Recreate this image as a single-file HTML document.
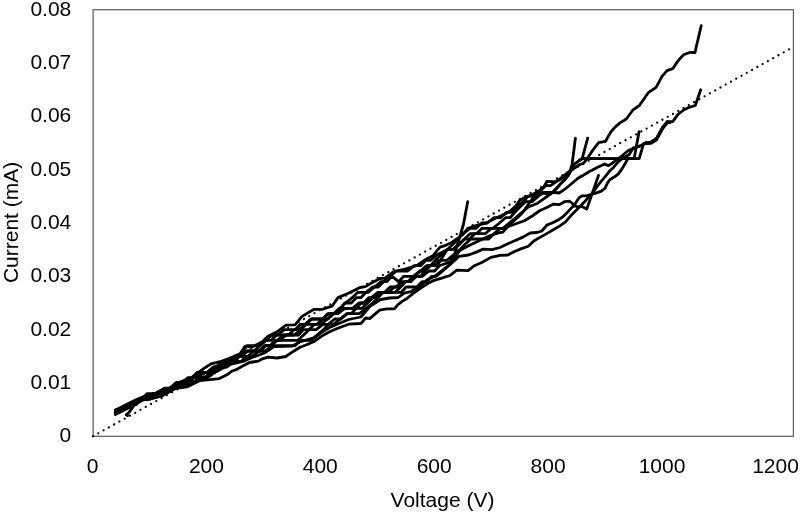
<!DOCTYPE html>
<html><head><meta charset="utf-8"><style>
html,body{margin:0;padding:0;background:#fff;width:800px;height:513px;overflow:hidden}
svg{display:block;will-change:transform}
text{font-family:"Liberation Sans",sans-serif;font-size:21px;fill:#000}
</style></head><body>
<svg width="800" height="513" viewBox="0 0 800 513">
<rect x="93.1" y="9.75" width="700.3" height="426.55" fill="none" stroke="#5e5e5e" stroke-width="1.25"/>
<g text-anchor="end">
<text x="71.3" y="442.3">0</text>
<text x="71.3" y="389">0.01</text>
<text x="71.3" y="335.7">0.02</text>
<text x="71.3" y="282.3">0.03</text>
<text x="71.3" y="229">0.04</text>
<text x="71.3" y="175.7">0.05</text>
<text x="71.3" y="122.4">0.06</text>
<text x="71.3" y="69">0.07</text>
<text x="71.3" y="15.75">0.08</text>
</g>
<g text-anchor="middle">
<text x="92.5" y="473">0</text>
<text x="206.4" y="473">200</text>
<text x="320.3" y="473">400</text>
<text x="434.2" y="473">600</text>
<text x="548.1" y="473">800</text>
<text x="662" y="473">1000</text>
<text x="775.5" y="473">1200</text>
<text x="442.5" y="507.2">Voltage (V)</text>
<text transform="translate(17.6,222.4) rotate(-90)">Current (mA)</text>
</g>
<g fill="none" stroke="#000" stroke-width="2.8" stroke-linejoin="round" stroke-linecap="round">
<polyline points="115.3,410.2 125.0,405.2 136.0,399.7 145.0,396.0 150.0,396.3 165.0,388.1 172.0,388.1 180.0,382.0 192.0,377.2 205.0,367.7 211.0,363.9 220.0,361.7 230.0,358.1 240.0,353.7 245.0,346.4 252.0,347.1 262.0,342.0 268.0,336.2 277.0,331.8 286.0,325.2 295.0,324.9 302.0,316.4 314.0,309.3 322.0,309.3 332.0,306.2 338.0,297.6 349.0,293.0 360.0,287.5 365.0,286.7 372.0,282.8 380.0,278.5 385.0,278.1 394.0,271.5 406.0,268.8 417.0,265.3 426.0,259.2 433.0,255.7 440.0,247.2 445.8,245.3 451.7,242.4 457.5,238.5 463.4,233.6 468.3,228.2 475.1,225.8 480.9,224.3 486.8,222.9 490.0,220.9 495.3,218.2 502.2,215.3 507.0,212.9 511.0,210.4 515.8,206.0 519.5,200.5 525.3,197.1 532.2,194.7 539.0,190.8 543.9,186.9 546.8,181.3 554.5,181.8 558.4,180.3 562.3,176.9 567.2,173.0 574.5,168.0 579.8,164.5 583.6,163.2 587.7,157.8 593.2,149.6 598.6,142.7 605.5,141.4 610.9,131.8 615.0,127.1 620.0,122.9 626.3,119.0 632.7,110.2 639.5,105.3 648.3,92.7 656.1,87.3 662.0,76.3 667.0,70.6 672.7,68.7 677.8,61.1 683.5,54.8 690.4,52.3 694.9,52.7 701.2,25.7"/>
<polyline points="115.3,409.9 120.1,409.4 126.3,405.7 131.6,402.8 137.5,399.8 142.4,399.0 147.9,399.0 154.7,393.6 160.5,393.6 165.7,388.3 170.3,388.3 175.6,383.0 182.2,383.0 188.0,377.6 192.6,377.6 197.5,377.6 204.3,372.3 209.3,372.3 215.7,367.0 222.3,361.7 228.7,361.7 235.5,356.3 240.4,356.3 246.6,345.7 252.4,345.7 259.0,345.7 265.5,340.3 272.1,335.0 277.7,335.0 284.3,329.7 290.0,329.7 295.3,329.7 300.2,324.3 305.4,324.3 310.7,319.0 316.8,319.0 322.6,319.0 328.5,313.7 333.5,313.7 340.2,308.3 344.9,303.0 351.2,303.0 356.2,297.7 360.8,297.7 366.0,292.3 372.6,287.0 378.3,287.0 383.5,281.7 390.0,276.3 396.2,271.0 401.6,271.0 407.7,271.0 414.4,265.7 420.7,265.7 425.8,260.3 430.7,260.3 436.9,255.0 447.0,249.7 453.1,244.3 457.9,239.0 463.4,233.7 469.8,228.4 475.7,228.4 481.8,223.0 487.3,223.0 494.0,217.7 500.4,217.7 506.5,212.4 512.0,212.4 516.6,207.0 523.2,201.7 528.0,196.4 534.7,196.4 540.2,191.0 545.5,185.7 550.5,185.7 558.5,180.2 562.0,178.3 566.1,175.5 569.6,172.0 572.0,165.0 575.4,138.2"/>
<polyline points="115.3,412.4 120.4,409.0 126.0,406.7 132.4,402.3 137.0,401.7 142.6,399.0 147.1,399.0 153.3,393.6 160.0,393.6 164.7,388.3 170.5,388.3 175.9,383.0 181.4,383.0 186.5,383.0 192.2,377.6 197.3,372.3 202.9,372.3 207.5,372.3 213.3,367.0 218.3,367.0 224.8,361.7 230.1,361.7 236.3,356.3 241.8,356.3 247.9,351.0 253.8,351.0 260.3,345.7 266.2,340.3 271.3,340.3 276.8,335.0 282.6,335.0 288.7,335.0 294.3,335.0 300.6,329.7 306.1,324.3 310.7,324.3 316.9,324.3 322.8,319.0 327.7,313.7 334.5,313.7 340.3,308.3 345.4,303.0 352.2,297.7 357.8,292.3 363.6,292.3 368.1,292.3 374.6,287.0 380.8,281.7 386.6,281.7 392.1,276.3 398.6,281.7 403.7,276.3 409.3,276.3 414.7,276.3 420.7,271.0 426.3,265.7 431.3,265.7 437.2,265.7 447.0,249.7 452.8,249.7 458.5,244.3 464.4,239.0 470.1,233.7 476.5,233.7 481.7,228.4 488.1,228.4 492.8,228.4 499.5,223.0 505.5,217.7 510.1,217.7 514.8,212.4 519.9,207.0 525.5,201.7 532.0,201.7 543.0,192.3 550.0,192.5 555.5,192.5 559.0,193.0 563.0,190.5 567.9,186.8 572.0,183.3 576.8,179.2 580.0,177.0 583.1,175.4 587.0,173.0 589.7,171.3 592.0,170.3 596.7,167.7 604.5,164.0 608.4,165.6 612.3,163.2 616.2,160.1 621.6,156.2 627.8,150.7 635.6,147.6 641.4,145.5 645.5,142.8 650.9,142.1 656.4,138.7 662.5,127.7 667.3,121.6 672.7,121.6 678.2,114.1 683.7,110.0 689.1,107.3 695.3,105.5 700.7,89.8"/>
<polyline points="115.3,411.9 121.2,409.7 125.9,405.9 132.4,403.6 137.5,402.4 143.1,399.0 148.8,399.0 153.7,393.6 160.2,393.6 166.5,388.3 171.2,388.3 177.1,383.0 181.7,383.0 187.4,383.0 193.9,377.6 200.6,372.3 207.0,372.3 213.7,367.0 218.4,367.0 223.5,367.0 229.1,361.7 234.3,361.7 239.7,356.3 245.6,356.3 252.3,356.3 258.9,351.0 265.8,345.7 270.7,345.7 277.4,340.3 283.3,335.0 288.3,335.0 294.2,329.7 298.9,329.7 305.7,324.3 312.1,319.0 317.0,319.0 323.3,319.0 328.0,319.0 332.7,313.7 338.0,313.7 344.8,308.3 351.6,308.3 356.3,308.3 361.0,303.0 366.5,303.0 371.4,297.7 377.9,292.3 384.7,292.3 390.1,287.0 395.8,287.0 401.8,281.7 407.7,281.7 413.4,276.3 419.6,271.0 424.9,271.0 430.6,265.7 435.2,260.3 447.0,249.7 453.1,249.7 459.6,244.3 464.7,239.0 469.8,239.0 474.6,233.7 479.7,233.7 485.2,233.7 491.2,228.4 496.4,228.4 502.9,228.4 509.3,223.0 515.6,217.7 521.9,212.4 528.4,207.0 537.6,203.2 545.4,197.7 550.0,194.3 553.7,191.3 557.4,187.6 561.1,183.2 564.8,179.5 568.5,175.0 571.5,169.5 574.6,164.0 579.3,160.5 582.2,158.5 587.7,138.2"/>
<polyline points="115.3,412.5 120.2,409.2 125.7,408.6 132.1,404.9 137.1,401.1 142.3,399.0 147.1,393.6 153.8,393.6 160.2,393.6 165.2,388.3 171.2,388.3 177.7,388.3 182.5,383.0 188.6,383.0 193.5,383.0 198.3,377.6 204.8,377.6 210.1,372.3 215.9,367.0 222.4,367.0 227.9,361.7 233.5,361.7 238.7,356.3 243.4,351.0 249.4,351.0 255.1,351.0 260.5,351.0 265.5,345.7 270.5,345.7 275.7,340.3 282.0,340.3 287.8,340.3 292.6,340.3 297.7,340.3 303.6,335.0 309.0,329.7 314.6,324.3 320.7,324.3 327.4,319.0 334.2,313.7 339.4,308.3 345.7,308.3 352.5,308.3 358.9,303.0 363.9,303.0 368.7,297.7 375.5,297.7 380.1,292.3 385.0,292.3 390.4,292.3 395.2,292.3 400.7,287.0 405.4,281.7 410.4,281.7 415.3,276.3 420.9,276.3 427.8,265.7 433.5,265.7 439.0,260.3 447.0,260.3 453.2,255.0 459.9,249.7 465.0,244.3 471.1,239.0 477.2,239.0 483.5,239.0 488.6,239.0 494.0,233.7 500.4,228.4 505.3,228.4 511.3,223.0 517.4,217.7 522.7,212.4 532.1,199.3 543.0,193.0 550.0,194.0 553.7,191.3 557.4,187.6 561.1,183.2 564.8,179.5 568.5,175.0 571.5,169.5 574.6,164.0 579.3,160.5 582.2,158.5 639.2,158.7 643.5,143.8 650.9,143.3 656.4,140.0 662.5,129.0 667.3,122.8 670.0,122.6"/>
<polyline points="115.3,414.0 122.0,410.5 128.7,405.3 134.3,404.8 140.3,399.0 145.2,399.0 150.3,399.0 156.1,393.6 161.2,393.6 167.8,388.3 172.8,388.3 177.6,383.0 182.5,383.0 189.0,383.0 194.1,383.0 200.6,377.6 207.4,377.6 213.5,372.3 220.2,367.0 227.0,367.0 232.2,361.7 237.1,361.7 241.9,361.7 247.8,356.3 253.9,351.0 259.2,351.0 264.8,345.7 270.5,345.7 275.2,340.3 279.8,340.3 286.3,335.0 292.6,335.0 298.5,335.0 303.2,329.7 309.9,329.7 316.2,329.7 322.9,324.3 328.3,324.3 334.6,319.0 340.9,319.0 347.4,313.7 354.1,313.7 359.4,313.7 366.1,308.3 372.8,303.0 378.0,297.7 383.0,292.3 387.9,292.3 394.7,287.0 399.4,287.0 405.2,281.7 410.3,281.7 416.7,276.3 422.2,276.3 428.9,271.0 434.6,271.0 439.4,265.7 450.0,262.0 452.0,259.0 454.6,255.0 456.6,246.9 460.0,236.2 463.4,224.5 467.7,201.7"/>
<polyline points="125.0,408.0 131.2,405.1 136.3,404.5 141.3,399.0 146.9,399.0 152.6,393.6 159.1,393.6 164.2,393.6 169.3,388.3 176.0,383.0 180.8,383.0 187.6,383.0 193.6,383.0 199.6,377.6 205.8,377.6 211.8,372.3 217.7,367.0 222.4,367.0 228.1,361.7 234.8,361.7 241.0,361.7 246.2,356.3 252.8,356.3 259.1,351.0 265.2,351.0 272.0,345.7 277.7,345.7 282.6,345.7 288.3,345.7 294.9,345.7 301.1,340.3 306.2,340.3 311.5,340.3 317.1,335.0 323.5,329.7 328.5,324.3 333.4,324.3 340.2,319.0 346.5,313.7 351.1,313.7 356.4,308.3 362.0,308.3 367.5,303.0 373.0,297.7 378.2,292.3 383.0,292.3 388.7,292.3 395.1,292.3 401.3,292.3 406.0,287.0 410.9,287.0 416.7,287.0 422.1,281.7 426.7,281.7 431.7,276.3 436.3,276.3 442.6,271.0 448.5,265.7 459.7,250.6 470.0,245.0 479.2,240.8 489.0,236.0 500.0,232.5 502.9,232.1 507.8,226.7 514.6,224.3 524.4,220.8 532.2,216.0 540.0,210.5 545.8,208.0 553.6,204.1 559.5,204.6 564.4,201.7 569.2,201.2 572.2,203.2 574.1,205.6 577.0,206.6 581.9,206.6 586.8,209.0 598.5,175.4"/>
<polyline points="127.5,415.6 126.3,414.8 129.0,412.4 134.3,405.2 143.2,397.5 152.7,396.0 162.3,393.5 175.9,386.0 186.9,384.5 200.5,378.8 205.0,377.8 209.0,376.7 212.7,373.8 222.0,368.5 232.2,363.8 243.2,361.5 252.0,357.5 258.0,355.5 264.3,353.0 274.1,346.5 292.6,346.0 300.0,341.8 314.6,337.5 321.4,332.5 329.6,327.5 337.7,324.0 348.7,319.5 360.9,317.0 370.0,306.3 380.7,299.5 389.5,298.0 398.3,297.5 404.1,293.2 410.9,291.7 420.0,285.8 427.0,280.0 435.0,276.0 444.0,269.0 450.0,264.7 458.8,256.4 468.5,255.0 476.3,252.1 483.1,249.1 491.9,249.6 500.0,247.5 507.8,243.8 514.6,240.8 522.4,237.4 530.2,233.0 537.0,232.5 541.9,231.0 546.8,225.1 552.7,222.7 559.5,219.2 563.4,216.3 567.3,212.4 572.2,207.1 574.1,205.6 579.0,197.8 581.9,195.8 586.8,195.8 591.2,194.3 595.0,193.4 600.9,191.4 604.8,188.5 607.7,182.7 609.7,179.7 614.5,176.8 618.4,173.9 622.3,168.4 625.2,163.5 628.0,158.5 634.2,158.3 639.1,131.6"/>
<polyline points="115.3,414.5 121.4,411.5 132.3,406.0 143.2,399.9 152.7,398.5 162.3,395.8 175.9,388.3 186.9,386.9 200.0,380.5 209.7,379.6 219.5,378.6 227.3,374.6 232.0,371.0 237.0,369.3 243.7,365.4 249.5,362.5 258.3,361.1 262.4,358.8 268.0,357.2 277.0,358.0 285.8,356.5 293.6,351.2 300.0,347.3 306.0,345.0 314.6,341.2 321.4,336.4 329.6,331.7 337.7,328.3 348.7,324.2 360.9,323.5 365.7,318.0 370.0,318.5 374.9,314.1 379.7,310.2 386.6,308.8 394.4,308.8 398.3,304.4 402.2,301.4 407.0,298.5 412.9,293.6 420.0,288.5 427.3,283.8 434.1,280.3 440.9,278.4 450.0,275.5 456.8,270.1 468.0,270.6 474.4,265.7 482.2,262.3 490.9,257.4 500.0,255.4 507.8,255.0 514.6,251.5 521.4,248.6 528.3,246.2 534.1,240.8 540.9,236.9 549.7,231.9 554.6,229.0 559.5,226.1 565.3,222.2 571.2,215.3 577.0,209.5 584.3,202.1 589.2,196.3 593.1,192.4 597.0,186.6 600.9,181.7 605.8,175.8 609.7,171.0 613.5,167.4 618.4,161.6 623.3,157.7 629.0,154.7 633.4,147.8 641.4,145.5 645.5,142.8 650.9,142.1 656.4,138.7 662.5,127.7 667.3,121.6"/>
</g>
<line x1="93.03" y1="436.23" x2="789.4" y2="49.18" stroke="#000" stroke-width="2.3" stroke-linecap="round" stroke-dasharray="0 6.032"/>
</svg>
</body></html>
